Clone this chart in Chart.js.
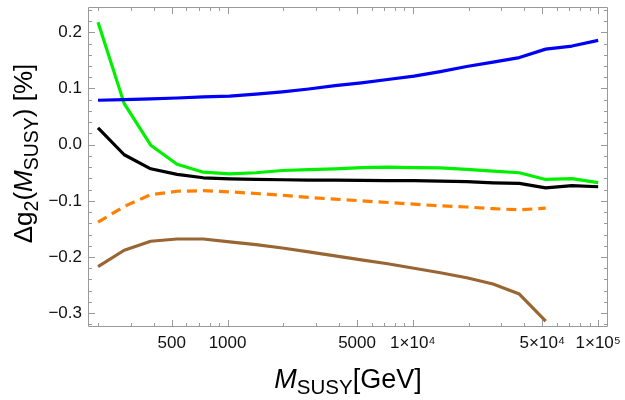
<!DOCTYPE html>
<html><head><meta charset="utf-8">
<script src="https://cdn.jsdelivr.net/npm/chart.js@4.4.0/dist/chart.umd.min.js"></script>
<style>html,body{margin:0;padding:0;background:#fff}#c{display:block}</style>
</head><body>
<canvas id="c" width="625" height="400"></canvas>
<script>
// ---- data ----
const masses = [200, 277, 385, 534, 740, 1027, 1425, 1976, 2741, 3802, 5274, 7315, 10147, 14075, 19523, 27080, 37563, 52103, 72273, 100000];
const blueVals   = [0.079, 0.080, 0.0815, 0.083, 0.085, 0.0865, 0.090, 0.094, 0.099, 0.105, 0.110, 0.116, 0.122, 0.130, 0.139, 0.147, 0.155, 0.170, 0.1755, 0.1856];
const greenVals  = [0.218, 0.073, -0.001, -0.035, -0.049, -0.052, -0.050, -0.046, -0.0445, -0.043, -0.041, -0.040, -0.041, -0.0415, -0.044, -0.047, -0.050, -0.062, -0.0605, -0.0676];
const blackVals  = [0.030, -0.018, -0.043, -0.053, -0.059, -0.061, -0.062, -0.0625, -0.063, -0.063, -0.0635, -0.064, -0.064, -0.065, -0.066, -0.068, -0.069, -0.077, -0.073, -0.075];
const orangeVals = [-0.138, -0.110, -0.089, -0.083, -0.082, -0.084, -0.087, -0.090, -0.094, -0.097, -0.100, -0.103, -0.106, -0.109, -0.111, -0.114, -0.116, -0.113, null, null];
const brownVals  = [-0.217, -0.188, -0.172, -0.168, -0.168, -0.173, -0.178, -0.184, -0.191, -0.198, -0.205, -0.212, -0.220, -0.228, -0.237, -0.248, -0.266, -0.314, null, null];

const xTickValues = [500, 1000, 5000, 10000, 50000, 100000];
const xTickLabels = ['500', '1000', '5000', '1\u00d710\u2074', '5\u00d710\u2074', '1\u00d710\u2075'];
const yTickValues = [-0.3, -0.2, -0.1, 0.0, 0.1, 0.2];
const yTickLabels = ['\u22120.3', '\u22120.2', '\u22120.1', '0.0', '0.1', '0.2'];

const FONT = '"Liberation Sans", Arial, Helvetica, sans-serif';

function pts(vals) {
  const out = [];
  masses.forEach((m, i) => { if (vals[i] !== null) out.push({x: m, y: vals[i]}); });
  return out;
}

function xMinorValues() {
  const out = [];
  for (let d = 100; d <= 100000; d *= 10) {
    for (let k = 1; k <= 9; k++) {
      const v = k * d;
      if (v >= 177 && v <= 113000 && !xTickValues.includes(v)) out.push(v);
    }
  }
  return out;
}
function yMinorValues() {
  const out = [];
  for (let i = -16; i <= 12; i++) {
    if (i % 5 !== 0) out.push(i * 0.02);
  }
  return out;
}

const framePlugin = {
  id: 'frame',
  beforeDatasetsDraw(chart) {
    const {ctx, chartArea: a, scales: {x, y}} = chart;
    ctx.save();
    ctx.strokeStyle = '#9a9a9a';
    ctx.lineWidth = 1;
    const L = Math.round(a.left) + 0.5, R = Math.round(a.right) - 0.5;
    const T = Math.round(a.top) + 0.5, B = Math.round(a.bottom) - 0.5;
    ctx.beginPath();
    ctx.moveTo(L, T); ctx.lineTo(R, T); ctx.lineTo(R, B); ctx.lineTo(L, B); ctx.closePath();
    const xt = (v, len) => {
      const p = Math.round(x.getPixelForValue(v)) + 0.5;
      ctx.moveTo(p, B); ctx.lineTo(p, B - len);
      ctx.moveTo(p, T); ctx.lineTo(p, T + len);
    };
    xTickValues.forEach(v => xt(v, 6.5));
    xMinorValues().forEach(v => xt(v, 3.5));
    const yt = (v, len) => {
      const p = Math.round(y.getPixelForValue(v)) + 0.5;
      ctx.moveTo(L, p); ctx.lineTo(L + len, p);
      ctx.moveTo(R, p); ctx.lineTo(R - len, p);
    };
    yTickValues.forEach(v => yt(v, 6.5));
    yMinorValues().forEach(v => yt(v, 3.5));
    ctx.stroke();
    ctx.restore();
  },
  afterDraw(chart) {
    const {ctx, chartArea: a} = chart;
    const drawRich = (parts, cx, baseY) => {
      let total = 0;
      parts.forEach(p => {
        ctx.font = (p.italic ? 'italic ' : '') + p.size + 'px ' + FONT;
        p.w = ctx.measureText(p.t).width;
        total += p.w;
      });
      let xx = cx - total / 2;
      ctx.textBaseline = 'alphabetic';
      ctx.textAlign = 'left';
      parts.forEach(p => {
        ctx.font = (p.italic ? 'italic ' : '') + p.size + 'px ' + FONT;
        ctx.fillText(p.t, xx, baseY + (p.dy || 0));
        xx += p.w;
      });
    };
    ctx.save();
    ctx.fillStyle = '#000';
    // x title
    drawRich([
      {t: 'M', size: 27, italic: true},
      {t: 'SUSY', size: 20.5, dy: 6.5},
      {t: '[GeV]', size: 27}
    ], (a.left + a.right) / 2, 387.5);
    // y title
    ctx.translate(32, 153.5);
    ctx.rotate(-Math.PI / 2);
    drawRich([
      {t: '\u0394g', size: 26},
      {t: '2', size: 19.5, dy: 6},
      {t: '(', size: 26},
      {t: 'M', size: 26, italic: true},
      {t: 'SUSY', size: 19.5, dy: 6},
      {t: ') [%]', size: 26}
    ], 0, 0);
    ctx.restore();
  }
};

const ds = (label, vals, color, dash) => ({
  label, data: pts(vals), borderColor: color, backgroundColor: color,
  borderWidth: 3.2, pointRadius: 0, fill: false, tension: 0,
  borderDash: dash || [], borderCapStyle: 'butt', borderJoinStyle: 'round', spanGaps: false
});

new Chart(document.getElementById('c'), {
  type: 'line',
  data: {
    datasets: [
      ds('blue', blueVals, 'rgb(0,0,245)'),
      ds('green', greenVals, 'rgb(0,240,0)'),
      ds('black', blackVals, '#000000'),
      ds('orange', orangeVals, 'rgb(255,128,0)', [10, 6]),
      ds('brown', brownVals, 'rgb(153,102,51)')
    ]
  },
  options: {
    responsive: false,
    devicePixelRatio: 1,
    animation: false,
    events: [],
    layout: {padding: {left: 0, right: 17, top: 7, bottom: 0}},
    plugins: {legend: {display: false}, tooltip: {enabled: false}, title: {display: false}},
    scales: {
      x: {
        type: 'logarithmic', min: 176.6, max: 113000,
        grid: {display: false, drawTicks: false},
        border: {display: false},
        afterBuildTicks: s => { s.ticks = xTickValues.map(v => ({value: v})); },
        afterFit: s => { s.height = 73; s.paddingLeft = 0; s.paddingRight = 0; s.paddingTop = 0; s.paddingBottom = 0; },
        ticks: {
          autoSkip: false, maxRotation: 0, minRotation: 0, padding: 6,
          color: '#111', font: {family: FONT, size: 17},
          callback: (v) => { const i = xTickValues.indexOf(v); return i >= 0 ? xTickLabels[i] : ''; }
        }
      },
      y: {
        type: 'linear', min: -0.3246, max: 0.245,
        grid: {display: false, drawTicks: false},
        border: {display: false},
        afterBuildTicks: s => { s.ticks = yTickValues.map(v => ({value: v})); },
        afterFit: s => { s.width = 88; s.paddingLeft = 0; s.paddingRight = 0; s.paddingTop = 0; s.paddingBottom = 0; },
        ticks: {
          autoSkip: false, padding: 6,
          color: '#111', font: {family: FONT, size: 17},
          callback: (v) => { const i = yTickValues.findIndex(t => Math.abs(t - v) < 1e-9); return i >= 0 ? yTickLabels[i] : ''; }
        }
      }
    }
  },
  plugins: [framePlugin]
});
</script>
</body></html>
